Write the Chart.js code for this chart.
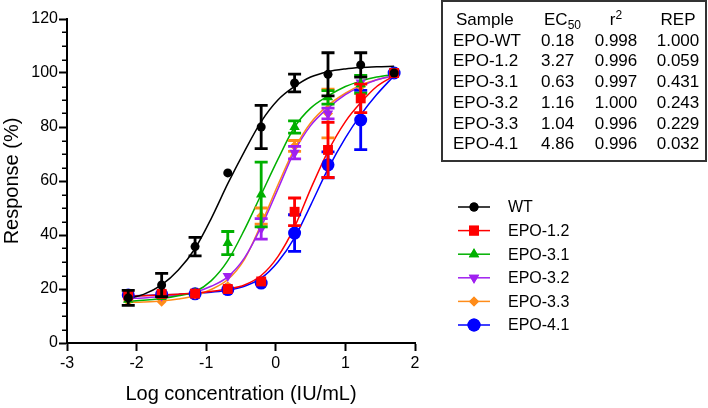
<!DOCTYPE html>
<html><head><meta charset="utf-8">
<script src="https://cdn.jsdelivr.net/npm/chart.js@4/dist/chart.umd.min.js"></script>
<style>
html,body{margin:0;padding:0;background:#fff;}
#wrap{position:relative;width:708px;height:408px;font-family:"Liberation Sans",Arial,sans-serif;overflow:hidden;}
#c{position:absolute;left:0;top:0;}
#tbl{position:absolute;left:441px;top:0px;width:266px;height:162px;border:2px solid #333;box-sizing:border-box;background:#fff;}
.cell{position:absolute;font-size:17px;line-height:20px;color:#000;white-space:nowrap;}
.cen{text-align:center;width:80px;}
sub{font-size:12px;vertical-align:-4px;line-height:0;}
sup{font-size:12px;vertical-align:6px;line-height:0;}
</style></head>
<body><div id="wrap"><canvas id="c" width="708" height="408" style="width:708px;height:408px"></canvas><div id="tbl"></div></div>
<script>
// ---- data ----
const seriesNames = ["WT", "EPO-1.2", "EPO-3.1", "EPO-3.2", "EPO-3.3", "EPO-4.1"];
const seriesColors = ["#000000", "#ff0000", "#00b000", "#a020f0", "#ff8c1a", "#0000ff"];
const doseLog = [-2.12, -1.64, -1.16, -0.69, -0.21, 0.27, 0.75, 1.22, 1.70];

const wtY   = [16.7, 21.5, 35.7, 63.0, 80.0, 96.3, 99.5, 103.0, 100.0];
const wtErr = [2.8, 4.3, 3.4, 1.0, 8.0, 3.3, 8.0, 4.5, 0];
const e12Y   = [17.6, 18.2, 18.3, 20.0, 22.8, 48.6, 71.5, 90.6, 100.0];
const e12Err = [0.8, 1.0, 0.5, 0.8, 0.8, 5.1, 10.2, 5.3, 0];
const e31Y   = [16.0, 17.0, 18.5, 37.0, 55.0, 80.0, 91.0, 95.8, 100.0];
const e31Err = [1.0, 1.0, 0.5, 4.3, 12.0, 2.3, 2.5, 3.3, 0];
const e32Y   = [16.5, 17.5, 18.5, 24.8, 42.3, 70.5, 85.0, 96.5, 100.0];
const e32Err = [0.5, 0.5, 0.5, 0.8, 3.8, 2.3, 2.0, 1.5, 0];
const e33Y   = [15.5, 15.3, 18.0, 21.0, 47.0, 73.0, 85.0, 95.0, 100.0];
const e33Err = [0.5, 0.5, 0.5, 1.2, 3.0, 2.0, 9.0, 1.5, 0];
const e41Y   = [17.8, 18.0, 18.2, 19.8, 22.2, 40.7, 66.0, 82.6, 100.0];
const e41Err = [1.0, 0.5, 0.5, 0.5, 0.5, 6.8, 4.8, 11.0, 0];

// fitted curves
const fitX = [-2.12, -1.9, -1.64, -1.4, -1.16, -0.93, -0.69, -0.45, -0.21, 0.03, 0.27, 0.5, 0.75, 1.0, 1.22, 1.45, 1.7];
const wtFit  = [16.5, 18.0, 21.5, 27.0, 35.0, 46.0, 59.0, 71.0, 82.0, 90.0, 95.0, 98.5, 100.5, 101.5, 102.0, 102.3, 102.5];
const e12Fit = [17.3, 17.5, 17.8, 18.1, 18.5, 19.1, 20.0, 21.5, 25.0, 32.0, 43.0, 57.0, 71.0, 82.0, 89.0, 95.0, 99.0];
const e31Fit = [15.5, 15.8, 16.5, 17.5, 19.0, 23.0, 30.5, 42.0, 55.0, 68.0, 80.0, 87.0, 91.5, 95.0, 97.0, 98.5, 99.5];
const e32Fit = [16.5, 16.7, 17.2, 17.8, 18.8, 21.0, 24.5, 31.5, 43.0, 57.0, 71.0, 80.5, 87.0, 92.0, 95.0, 97.5, 99.0];
const e33Fit = [15.0, 15.2, 15.6, 16.3, 17.5, 19.8, 23.5, 31.0, 44.0, 58.5, 72.0, 81.5, 88.0, 92.5, 95.5, 97.5, 99.0];
const e41Fit = [17.5, 17.6, 17.8, 18.0, 18.3, 18.8, 19.5, 21.0, 24.0, 30.0, 39.0, 51.0, 64.5, 76.0, 84.5, 92.0, 99.0];

const xTicks = [-3, -2, -1, 0, 1, 2];
const yTicks = [0, 20, 40, 60, 80, 100, 120];

// table
const tblSample = ["EPO-WT", "EPO-1.2", "EPO-3.1", "EPO-3.2", "EPO-3.3", "EPO-4.1"];
const tblEC50 = ["0.18", "3.27", "0.63", "1.16", "1.04", "4.86"];
const tblR2 = ["0.998", "0.996", "0.997", "1.000", "0.996", "0.996"];
const tblREP = ["1.000", "0.059", "0.431", "0.243", "0.229", "0.032"];

// ---- build ----
const allY = [wtY, e12Y, e31Y, e32Y, e33Y, e41Y];
const allErr = [wtErr, e12Err, e31Err, e32Err, e33Err, e41Err];
const allFit = [wtFit, e12Fit, e31Fit, e32Fit, e33Fit, e41Fit];
const styles = [
  {pointStyle: 'circle', radius: 4.5, rotation: 0},
  {pointStyle: 'rect', radius: 7, rotation: 0},
  {pointStyle: 'triangle', radius: 6, rotation: 0},
  {pointStyle: 'triangle', radius: 6, rotation: 180},
  {pointStyle: 'rectRot', radius: 5, rotation: 0},
  {pointStyle: 'circle', radius: 6.5, rotation: 0}
];

const datasets = [];
seriesNames.forEach((n, i) => {
  datasets.push({
    type: 'scatter', label: n,
    data: doseLog.map((x, k) => ({x: x, y: allY[i][k]})),
    errors: allErr[i],
    backgroundColor: seriesColors[i], borderColor: seriesColors[i], borderWidth: 0,
    pointStyle: styles[i].pointStyle, pointRadius: styles[i].radius, pointRotation: styles[i].rotation,
    pointHoverRadius: styles[i].radius, showLine: false, clip: false
  });
});
seriesNames.forEach((n, i) => {
  datasets.push({
    type: 'line', label: n + ' fit',
    data: fitX.map((x, k) => ({x: x, y: allFit[i][k]})),
    borderColor: seriesColors[i], borderWidth: 1.5, pointRadius: 0,
    cubicInterpolationMode: 'monotone', fill: false, clip: false
  });
});

const errorBars = {
  id: 'errorBars',
  beforeDatasetDraw(chart, args) {
    const ds = chart.data.datasets[args.index];
    if (!ds.errors) return;
    const xs = chart.scales.x, ys = chart.scales.y, ctx = chart.ctx;
    ctx.save();
    ctx.strokeStyle = ds.borderColor; ctx.lineWidth = 2.8; ctx.lineCap = 'butt';
    ds.data.forEach((p, k) => {
      const e = ds.errors[k];
      if (!e) return;
      const px = xs.getPixelForValue(p.x);
      const y1 = ys.getPixelForValue(p.y + e), y2 = ys.getPixelForValue(p.y - e);
      ctx.beginPath();
      ctx.moveTo(px, y1); ctx.lineTo(px, y2);
      if (e > 1.5) {
        ctx.moveTo(px - 6.5, y1); ctx.lineTo(px + 6.5, y1);
        ctx.moveTo(px - 6.5, y2); ctx.lineTo(px + 6.5, y2);
      }
      ctx.stroke();
    });
    ctx.restore();
  }
};

const minorTicks = {
  id: 'minorTicks',
  afterDraw(chart) {
    const ys = chart.scales.y, ctx = chart.ctx, left = chart.chartArea.left;
    ctx.save();
    ctx.strokeStyle = '#000'; ctx.lineWidth = 1.5;
    for (let v = ys.min; v <= ys.max; v += 5) {
      if (v % 20 === 0) continue;
      const py = Math.round(ys.getPixelForValue(v)) + 0.25;
      ctx.beginPath(); ctx.moveTo(left - 5, py); ctx.lineTo(left, py); ctx.stroke();
    }
    ctx.restore();
  }
};

const legendPlugin = {
  id: 'customLegend',
  afterDraw(chart) {
    const ctx = chart.ctx;
    ctx.save();
    seriesNames.forEach((n, i) => {
      const y = 207 + i * 23.6;
      ctx.strokeStyle = seriesColors[i]; ctx.lineWidth = 1.5;
      ctx.beginPath(); ctx.moveTo(458, y); ctx.lineTo(490, y); ctx.stroke();
      ctx.fillStyle = seriesColors[i];
      Chart.helpers.drawPoint(ctx, {pointStyle: styles[i].pointStyle, radius: styles[i].radius, rotation: styles[i].rotation, borderWidth: 0}, 474, y);
      ctx.fill();
      ctx.fillStyle = '#000';
      ctx.font = '16px "Liberation Sans", Arial, sans-serif';
      ctx.textBaseline = 'middle'; ctx.textAlign = 'left';
      ctx.fillText(n, 508, y + 1);
    });
    ctx.restore();
  }
};

const fontFam = '"Liberation Sans", Arial, sans-serif';
new Chart(document.getElementById('c'), {
  data: {datasets: datasets},
  plugins: [errorBars, minorTicks, legendPlugin],
  options: {
    responsive: false, animation: false,
    layout: {padding: {left: 0, top: 19, right: 293, bottom: 0}},
    plugins: {legend: {display: false}, tooltip: {enabled: false}},
    scales: {
      x: {
        type: 'linear', min: -3, max: 2,
        afterFit: s => { s.height = 65; },
        afterBuildTicks: s => { s.ticks = xTicks.map(v => ({value: v})); },
        ticks: {font: {size: 16, family: fontFam}, color: '#000', padding: 3, maxRotation: 0},
        grid: {drawOnChartArea: false, drawTicks: true, tickLength: 8, tickWidth: 2, tickColor: '#000'},
        border: {display: true, color: '#000', width: 2},
        title: {display: true, text: 'Log concentration (IU/mL)', font: {size: 20, family: fontFam}, color: '#000', padding: {top: 0, bottom: 2}}
      },
      y: {
        type: 'linear', min: 0, max: 120,
        afterFit: s => { s.width = 67; },
        afterBuildTicks: s => { s.ticks = yTicks.map(v => ({value: v})); },
        ticks: {font: {size: 16, family: fontFam}, color: '#000', padding: 1},
        grid: {drawOnChartArea: false, drawTicks: true, tickLength: 8, tickWidth: 2, tickColor: '#000'},
        border: {display: true, color: '#000', width: 2},
        title: {display: true, text: 'Response (%)', font: {size: 20, family: fontFam}, color: '#000', padding: {top: 0, bottom: 0}}
      }
    }
  }
});

// table as HTML text
const tbl = document.getElementById('tbl');
function cell(html, left, top, center) {
  const d = document.createElement('div');
  d.className = 'cell' + (center ? ' cen' : '');
  d.style.left = (center ? left - 40 : left) + 'px';
  d.style.top = top + 'px';
  d.innerHTML = html;
  tbl.appendChild(d);
}
const rowTop = r => 8 + r * 20.7;
cell('Sample', 13, rowTop(0), false);
cell('EC<sub>50</sub>', 101, rowTop(0), false);
cell('r<sup>2</sup>', 173, rowTop(0), true);
cell('REP', 235, rowTop(0), true);
tblSample.forEach((s, r) => {
  cell(s, 10, rowTop(r + 1), false);
  cell(tblEC50[r], 98, rowTop(r + 1), false);
  cell(tblR2[r], 173, rowTop(r + 1), true);
  cell(tblREP[r], 235, rowTop(r + 1), true);
});
</script>
</body></html>
